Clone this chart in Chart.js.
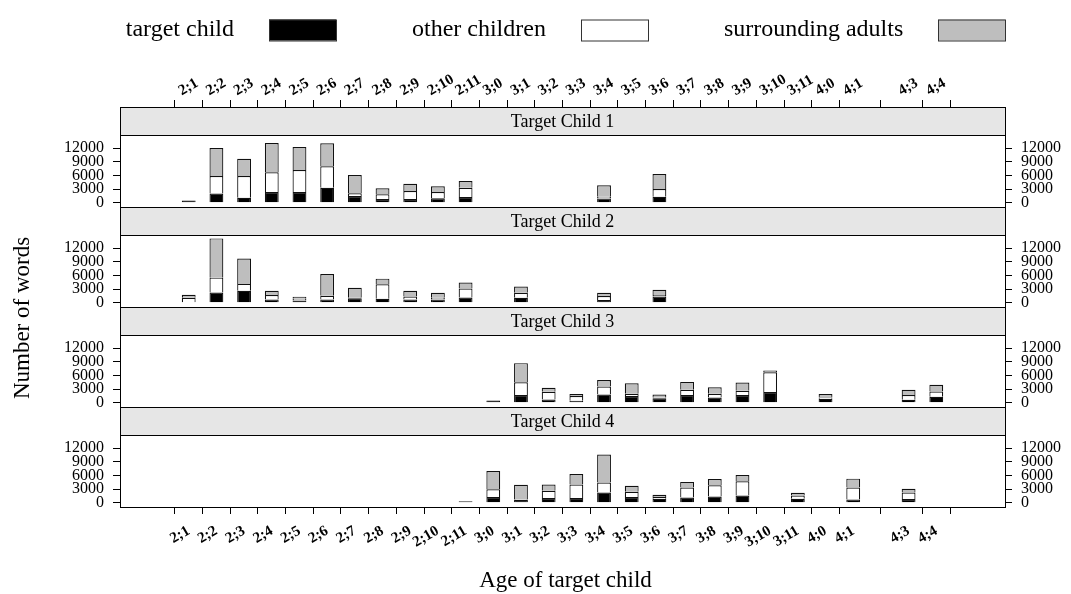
<!DOCTYPE html>
<html>
<head>
<meta charset="utf-8">
<title>Number of words by age</title>
<script src="https://cdn.jsdelivr.net/npm/chart.js@4.4.1/dist/chart.umd.min.js"></script>
<style>
  html, body { margin: 0; padding: 0; background: #fff; }
</style>
</head>
<body>
<canvas id="myChart" width="1071" height="594"></canvas>
<script>
var FONT = "'Liberation Serif', 'DejaVu Serif', serif";

// recording ages (years;months) and the same ages in months
var ageLabels = ['2;1', '2;2', '2;3', '2;4', '2;5', '2;6', '2;7', '2;8', '2;9', '2;10', '2;11',
                 '3;0', '3;1', '3;2', '3;3', '3;4', '3;5', '3;6', '3;7', '3;8', '3;9', '3;10', '3;11',
                 '4;0', '4;1', '4;3', '4;4'];
var ageMonths = [25, 26, 27, 28, 29, 30, 31, 32, 33, 34, 35,
                 36, 37, 38, 39, 40, 41, 42, 43, 44, 45, 46, 47,
                 48, 49, 51, 52];

var childNames = ['Target Child 1', 'Target Child 2', 'Target Child 3', 'Target Child 4'];
var seriesNames = ['target child', 'other children', 'surrounding adults'];
var seriesColors = ['#000000', '#ffffff', '#bebebe'];
var yTicks = [0, 3000, 6000, 9000, 12000];

// words per recording, one slot per age above (null = no recording)
var child1Target = [500, 2000, 1100, 2350, 2350, 3300, 1470, 810, 810, 955, 1250,
                    null, null, null, null, 950, null, 1320, null, null, null, null, null,
                    null, null, null, null];
var child1Other  = [null, 3900, 4780, 4340, 4850, 4710, 590, 1030, 1760, 1395, 2050,
                    null, null, null, null, 370, null, 1690, null, null, null, null, null,
                    null, null, null, null];
var child1Adults = [null, 6170, 3820, 6460, 5075, 5070, 4040, 1320, 1620, 1250, 1480,
                    null, null, null, null, 2500, null, 3310, null, null, null, null, null,
                    null, null, null, null];

var child2Target = [null, 2250, 2620, 730, 500, 730, 1000, 870, 730, 730, 1160,
                    null, 1090, null, null, 580, null, 1380, null, null, null, null, null,
                    null, null, null, null];
var child2Other  = [1090, 3275, 1520, 940, 360, 800, 100, 3200, 650, 360, 1970,
                    null, 1090, null, null, 870, null, 300, null, null, null, null, null,
                    null, null, null, null];
var child2Adults = [650, 8650, 5600, 950, 440, 4800, 2170, 1230, 1240, 1090, 1300,
                    null, 1380, null, null, 730, null, 1160, null, null, null, null, null,
                    null, null, null, null];

var child3Target = [null, null, null, null, null, null, null, null, null, null, null,
                    500, 1670, 730, 440, 1820, 1450, 1000, 1670, 1160, 1670, 2330, null,
                    870, null, 650, 1310];
var child3Other  = [null, null, null, null, null, null, null, null, null, null, null,
                    null, 2840, 1670, 1010, 1740, 510, 150, 1170, 800, 950, 4360, null,
                    290, null, 1020, 1160];
var child3Adults = [null, null, null, null, null, null, null, null, null, null, null,
                    null, 4210, 870, 440, 1460, 2330, 670, 1740, 1460, 1810, 430, null,
                    730, null, 1170, 1460];

var child4Target = [null, null, null, null, null, null, null, null, null, null, 300,
                    1240, 580, 1020, 1020, 2250, 1240, 870, 1160, 1380, 1600, null, 870,
                    null, 730, 800, null];
var child4Other  = [null, null, null, null, null, null, null, null, null, null, null,
                    1740, 100, 1600, 2980, 2180, 1160, 370, 2180, 2470, 3130, null, 730,
                    null, 2610, 1450, null];
var child4Adults = [null, null, null, null, null, null, null, null, null, null, null,
                    4000, 3250, 1380, 2330, 6180, 1310, 500, 1240, 1380, 1380, null, 580,
                    null, 1960, 800, null];

var children = [
  [child1Target, child1Other, child1Adults],
  [child2Target, child2Other, child2Adults],
  [child3Target, child3Other, child3Adults],
  [child4Target, child4Other, child4Adults]
];

// value range of each panel: the plot part runs up to Y_PLOT_TOP,
// the rest above it is room for the grey strip with the child's name
var Y_MIN = -950;
var Y_PLOT_TOP = 14900;
var Y_STRIP_TOP = 21100;

function makePoints(values) {
  var pts = [];
  values.forEach(function(v, i) {
    if (v !== null) pts.push({x: ageMonths[i], y: v});
  });
  return pts;
}

var datasets = [];
children.forEach(function(series, c) {
  series.forEach(function(values, s) {
    datasets.push({
      label: seriesNames[s],
      data: makePoints(values),
      yAxisID: 'y' + (c + 1),
      backgroundColor: seriesColors[s],
      borderColor: '#111',
      borderWidth: 1.2,
      grouped: false,
      categoryPercentage: 1,
      barPercentage: 0.5
    });
  });
});

function monthLabel(value) {
  var i = ageMonths.indexOf(value);
  return i < 0 ? '' : ageLabels[i];
}

function xAxis(position, height, pad) {
  return {
    type: 'linear',
    position: position,
    min: 23.11,
    max: 53.89,
    afterBuildTicks: function(scale) {
      scale.ticks = ageMonths.map(function(m) { return {value: m}; });
    },
    afterFit: function(scale) {
      scale.height = height;
      scale.paddingLeft = 0;
      scale.paddingRight = 0;
    },
    grid: { drawOnChartArea: false, drawTicks: true, tickLength: 7, color: '#000', tickColor: '#000' },
    border: { color: '#000', width: 1 },
    ticks: {
      autoSkip: false,
      minRotation: 30,
      maxRotation: 30,
      padding: pad,
      color: '#000',
      font: { family: FONT, size: 15, weight: 'bold' },
      callback: monthLabel
    }
  };
}

function yAxis(position, stack, weight, width) {
  return {
    type: 'linear',
    position: position,
    stack: stack,
    stackWeight: 1,
    weight: weight,
    stacked: true,
    min: Y_MIN,
    max: Y_STRIP_TOP,
    afterBuildTicks: function(scale) {
      scale.ticks = yTicks.map(function(v) { return {value: v}; });
    },
    afterFit: function(scale) {
      scale.width = width;
      scale.paddingTop = 0;
      scale.paddingBottom = 0;
    },
    grid: { drawOnChartArea: false, drawTicks: true, tickLength: 7, color: '#000', tickColor: '#000' },
    border: { color: '#000', width: 1 },
    ticks: {
      autoSkip: false,
      padding: 9,
      color: '#000',
      font: { family: FONT, size: 16, lineHeight: 1 },
      callback: function(value) { return String(value); }
    }
  };
}

var scales = {
  x: xAxis('bottom', 47, 8),
  x2: xAxis('top', 47, 0)
};
for (var c = 0; c < childNames.length; c++) {
  scales['y' + (c + 1)] = yAxis('left', 'left', childNames.length - c, 80);
  scales['r' + (c + 1)] = yAxis('right', 'right', c + 1, 66);
}

// grey strips on top of each panel, plus the lines round each panel
var panelStrips = {
  id: 'panelStrips',
  afterDraw: function(chart) {
    var ctx = chart.ctx;
    var area = chart.chartArea;
    var w = area.right - area.left;
    ctx.save();
    for (var c = 0; c < childNames.length; c++) {
      var sc = chart.scales['y' + (c + 1)];
      var top = Math.round(sc.top);
      var mid = Math.round(sc.getPixelForValue(Y_PLOT_TOP));
      var bottom = Math.round(sc.bottom);
      ctx.fillStyle = '#e6e6e6';
      ctx.fillRect(area.left, top, w, mid - top);
      ctx.strokeStyle = '#000';
      ctx.lineWidth = 1;
      ctx.strokeRect(Math.round(area.left) + 0.5, top + 0.5, Math.round(w), mid - top);
      ctx.strokeRect(Math.round(area.left) + 0.5, top + 0.5, Math.round(w), bottom - top);
      ctx.fillStyle = '#000';
      ctx.font = '18px ' + FONT;
      ctx.textAlign = 'center';
      ctx.textBaseline = 'middle';
      ctx.fillText(childNames[c], (area.left + area.right) / 2, (top + mid) / 2 + 1);
    }
    ctx.restore();
  }
};

// legend row (label, then box) and the two axis titles
var labelsAndTitles = {
  id: 'labelsAndTitles',
  afterDraw: function(chart) {
    var ctx = chart.ctx;
    var area = chart.chartArea;
    ctx.save();
    ctx.fillStyle = '#000';
    ctx.textBaseline = 'middle';

    ctx.font = '24px ' + FONT;
    var boxW = 67, boxH = 21, gapIn = 35, gapOut = 76;
    var total = 0;
    seriesNames.forEach(function(name, i) {
      total += ctx.measureText(name).width + gapIn + boxW + (i < seriesNames.length - 1 ? gapOut : 0);
    });
    var x = (area.left + area.right) / 2 - total / 2 + 3;
    var cy = 30;
    seriesNames.forEach(function(name, i) {
      ctx.fillStyle = '#000';
      ctx.textAlign = 'left';
      ctx.fillText(name, x, cy);
      x += ctx.measureText(name).width + gapIn;
      ctx.fillStyle = seriesColors[i];
      ctx.fillRect(Math.round(x), cy - boxH / 2, boxW, boxH);
      ctx.strokeStyle = '#333';
      ctx.lineWidth = 1;
      ctx.strokeRect(Math.round(x) + 0.5, cy - boxH / 2 + 0.5, boxW, boxH);
      x += boxW + gapOut;
    });

    ctx.fillStyle = '#000';
    ctx.font = '23px ' + FONT;
    ctx.textAlign = 'center';
    ctx.fillText('Age of target child', (area.left + area.right) / 2 + 3, 581);

    ctx.translate(23, 318);
    ctx.rotate(-Math.PI / 2);
    ctx.fillText('Number of words', 0, 0);
    ctx.restore();
  }
};

var ctx = document.getElementById('myChart').getContext('2d');

var config = {
  type: 'bar',
  data: { datasets: datasets },
  options: {
    responsive: false,
    animation: false,
    layout: { padding: { top: 60, bottom: 40, left: 40, right: 0 } },
    plugins: {
      legend: { display: false },
      tooltip: { enabled: false }
    },
    scales: scales
  },
  plugins: [panelStrips, labelsAndTitles]
};

var myChart = new Chart(ctx, config);
</script>
</body>
</html>
